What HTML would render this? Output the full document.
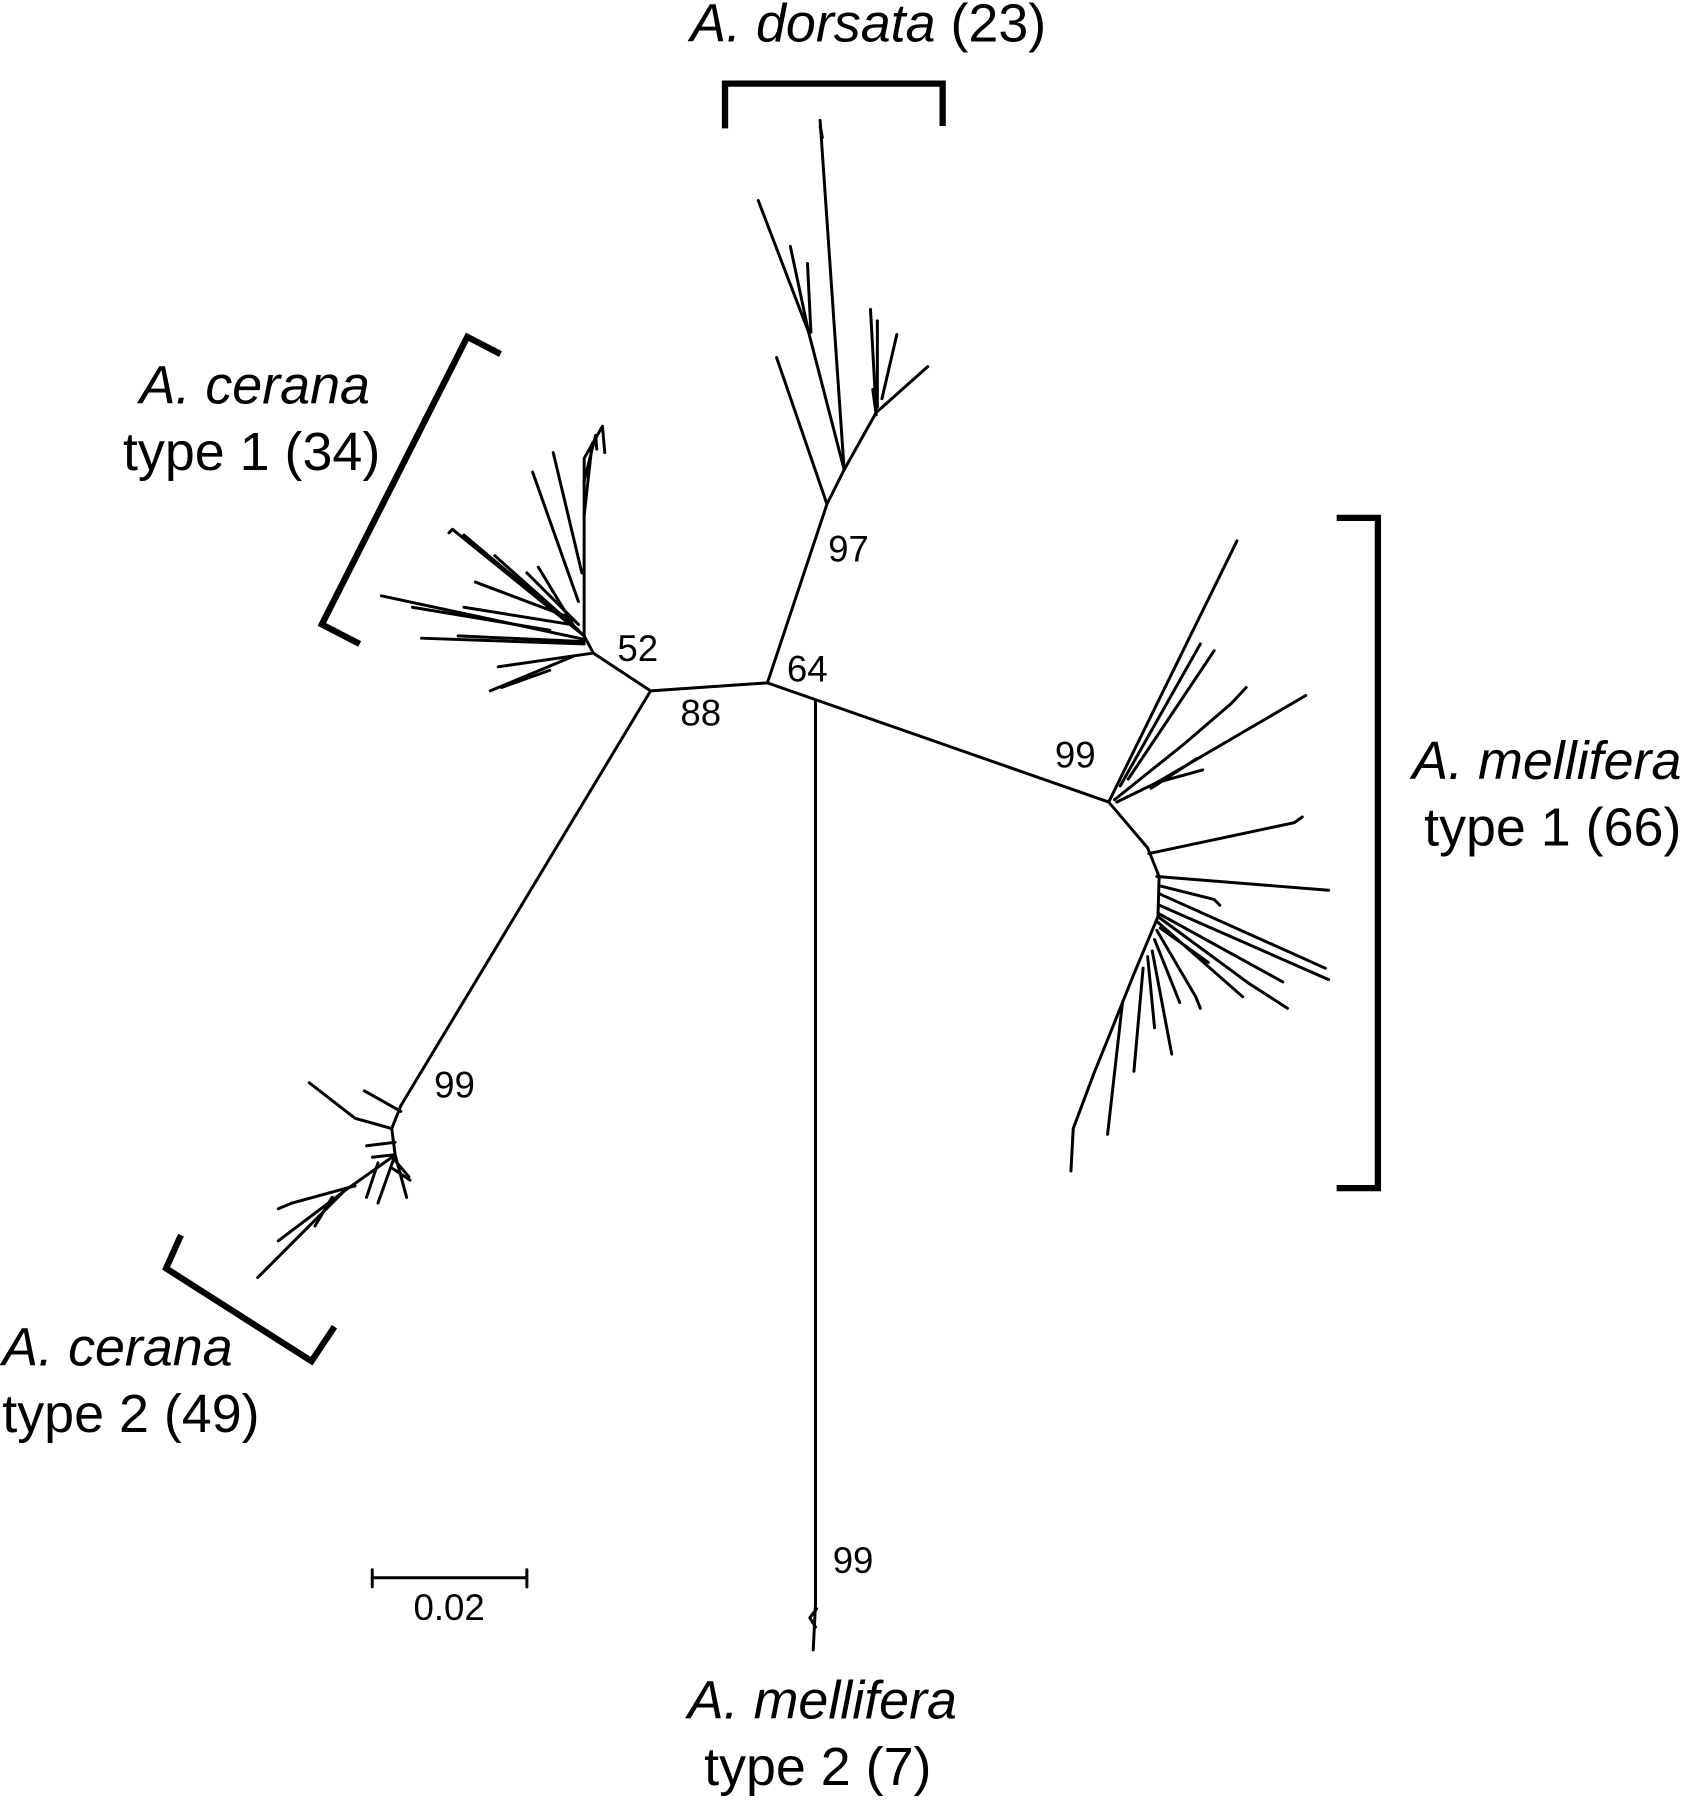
<!DOCTYPE html>
<html><head><meta charset="utf-8"><style>
html,body{margin:0;padding:0;background:#fff;}
svg{display:block;}
text{font-family:"Liberation Sans",Arial,sans-serif;fill:#000;}
</style></head><body>
<svg width="1686" height="1800" viewBox="0 0 1472 1571" preserveAspectRatio="none" xmlns="http://www.w3.org/2000/svg">
<g fill="none" stroke="#000" stroke-width="2.6" stroke-linecap="round" stroke-linejoin="round">
<!-- backbone -->
<polyline points="518,570 568,603 670,596 968,700"/>
<polyline points="670,596 722,440 737,410"/>
<polyline points="568,603 350,965"/>
<polyline points="712,612 712,1400 710,1440"/>
<polyline points="712,1420 707,1412 713,1404"/>
<!-- dorsata -->
<polyline points="737,410 716,105"/>
<polyline points="718,120 716,110"/>
<polyline points="722,440 678,312"/>
<polyline points="737,410 706,290 662,175"/>
<polyline points="706,290 690,215"/>
<polyline points="708,290 705,230"/>
<polyline points="737,410 765,360 810,320"/>
<polyline points="765,360 760,270"/>
<polyline points="766,355 766,280"/>
<polyline points="770,348 783,292"/>
<polyline points="765,362 762,340"/>
<!-- mellifera type 1 -->
<polyline points="968,700 1080,472"/>
<polyline points="978,686 1048,562"/>
<polyline points="985,680 1060,568"/>
<polyline points="973,698 1033,650 1075,614 1088,600"/>
<polyline points="975,700 1010,683 1140,607"/>
<polyline points="1010,683 1050,672"/>
<polyline points="1005,688 1045,662"/>
<polyline points="968,700 1002,740 1012,765 1011,800 990,850 968,905 955,937 937,985 935,1022"/>
<polyline points="1003,745 1130,718 1137,713"/>
<polyline points="1010,765 1160,777"/>
<polyline points="1012,773 1060,785 1065,790"/>
<polyline points="1012,780 1157,845"/>
<polyline points="1012,790 1160,855"/>
<polyline points="1011,797 1120,857"/>
<polyline points="1011,800 1090,858 1124,880"/>
<polyline points="1011,805 1085,870"/>
<polyline points="1013,810 1055,840"/>
<polyline points="1010,812 1044,870 1048,880"/>
<polyline points="1008,820 1030,875"/>
<polyline points="1006,830 1023,920"/>
<polyline points="1002,835 1008,897"/>
<polyline points="998,845 990,935"/>
<polyline points="980,875 967,990"/>
<!-- cerana type 1 -->
<polyline points="518,570 510,555 510,400 526,372 528,395"/>
<polyline points="510,420 520,380 521,392"/>
<polyline points="510,450 517,387"/>
<polyline points="508,500 483,395"/>
<polyline points="505,525 465,412"/>
<polyline points="510,555 395,462 392,465"/>
<polyline points="508,553 405,467"/>
<polyline points="505,550 432,485"/>
<polyline points="505,545 460,500"/>
<polyline points="500,540 415,508"/>
<polyline points="502,548 470,495"/>
<polyline points="498,545 405,530"/>
<polyline points="510,558 333,520"/>
<polyline points="480,550 360,530"/>
<polyline points="510,560 400,555"/>
<polyline points="510,562 368,557"/>
<polyline points="518,570 435,582"/>
<polyline points="500,573 428,603"/>
<polyline points="480,585 438,600"/>
<!-- cerana type 2 -->
<polyline points="350,965 342,985 345,1008 300,1040 225,1115"/>
<polyline points="342,985 310,976 270,945"/>
<polyline points="350,970 318,952"/>
<polyline points="345,997 320,1000"/>
<polyline points="343,1008 325,1010"/>
<polyline points="345,1008 330,1050"/>
<polyline points="345,1008 355,1045"/>
<polyline points="343,1020 358,1030"/>
<polyline points="345,1013 357,1027"/>
<polyline points="330,1015 320,1045"/>
<polyline points="310,1035 255,1050 243,1055"/>
<polyline points="300,1040 243,1083"/>
<polyline points="290,1045 275,1070"/>
<!-- scale bar -->
<polyline points="325,1377 460,1377"/>
<polyline points="325,1370 325,1385"/>
<polyline points="460,1370 460,1385"/>
</g>
<g fill="none" stroke="#000" stroke-width="5.5" stroke-linecap="butt" stroke-linejoin="miter">
<polyline points="633,112 633,73 823,73 823,110"/>
<polyline points="437,309 408,294 281,545 314,562"/>
<polyline points="1167,452 1203,452 1203,1037 1167,1037"/>
<polyline points="158,1078 145,1107 272,1188 292,1158"/>
</g>
<g font-size="47">
<text x="758" y="36" text-anchor="middle"><tspan font-style="italic">A. dorsata</tspan> (23)</text>
<text x="323" y="352" text-anchor="end" font-style="italic">A. cerana</text>
<text x="332" y="410" text-anchor="end">type 1 (34)</text>
<text x="1468" y="680" text-anchor="end" font-style="italic">A. mellifera</text>
<text x="1468" y="738" text-anchor="end">type 1 (66)</text>
<text x="2" y="1192" font-style="italic">A. cerana</text>
<text x="2" y="1250">type 2 (49)</text>
<text x="718" y="1500" text-anchor="middle" font-style="italic">A. mellifera</text>
<text x="714" y="1558" text-anchor="middle">type 2 (7)</text>
</g>
<g font-size="32">
<text x="539" y="577">52</text>
<text x="594" y="633">88</text>
<text x="687" y="595">64</text>
<text x="723" y="490">97</text>
<text x="921" y="670">99</text>
<text x="379" y="958">99</text>
<text x="727" y="1373">99</text>
<text x="361" y="1414">0.02</text>
</g>
</svg>
</body></html>
